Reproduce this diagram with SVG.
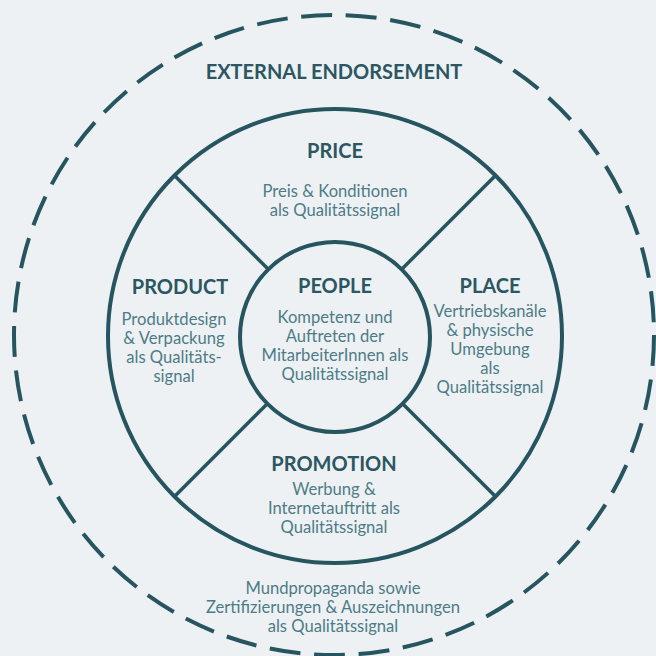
<svg xmlns="http://www.w3.org/2000/svg" width="656" height="656" viewBox="0 0 656 656">
  <style>
    .ring { fill: none; stroke: #265560; stroke-width: 4; }
    .dashed { fill: none; stroke: #265560; stroke-width: 4; stroke-dasharray: 31 13.68; }
    .spoke { stroke: #265560; stroke-width: 3.5; stroke-linecap: butt; }
    .head { font-family: Lato, "Liberation Sans", sans-serif; font-weight: 700; font-size: 20px; fill: #2b5662; text-anchor: middle; }
    .body { font-family: Lato, "Liberation Sans", sans-serif; font-size: 16.6px; fill: #4d7c86; text-anchor: middle; }
  </style>
  <rect width="656" height="656" fill="#edf1f4"/>

  <!-- external endorsement (outer dashed ring) -->
  <g id="external-endorsement">
    <circle class="dashed" cx="334" cy="335" r="320"/>
    <text class="head" x="334" y="79">EXTERNAL ENDORSEMENT</text>
    <text class="body" x="333" y="594">Mundpropaganda sowie</text>
    <text class="body" x="333" y="613">Zertifizierungen &amp; Auszeichnungen</text>
    <text class="body" x="333" y="632">als Qualitätssignal</text>
  </g>

  <!-- rings and dividing spokes -->
  <g id="connectors">
    <circle class="ring" cx="335" cy="336" r="227"/>
    <line class="spoke" x1="174.5" y1="175.5" x2="267.8" y2="268.8"/>
    <line class="spoke" x1="495.5" y1="175.5" x2="402.2" y2="268.8"/>
    <line class="spoke" x1="174.5" y1="496.5" x2="267.8" y2="403.2"/>
    <line class="spoke" x1="495.5" y1="496.5" x2="402.2" y2="403.2"/>
  </g>

  <g id="price">
    <text class="head" x="335" y="158">PRICE</text>
    <text class="body" x="335" y="197">Preis &amp; Konditionen</text>
    <text class="body" x="335" y="216">als Qualitätssignal</text>
  </g>

  <g id="product">
    <text class="head" x="180" y="294">PRODUCT</text>
    <text class="body" x="174" y="325">Produktdesign</text>
    <text class="body" x="174" y="344">&amp; Verpackung</text>
    <text class="body" x="174" y="363">als Qualitäts-</text>
    <text class="body" x="174" y="382">signal</text>
  </g>

  <g id="people">
    <circle class="ring" cx="335" cy="337" r="95" fill="#edf1f4"/>
    <text class="head" x="335" y="293">PEOPLE</text>
    <text class="body" x="335" y="323">Kompetenz und</text>
    <text class="body" x="335" y="342">Auftreten der</text>
    <text class="body" x="335" y="361">MitarbeiterInnen als</text>
    <text class="body" x="335" y="380">Qualitätssignal</text>
  </g>

  <g id="place">
    <text class="head" x="490" y="293">PLACE</text>
    <text class="body" x="490" y="317">Vertriebskanäle</text>
    <text class="body" x="490" y="336">&amp; physische</text>
    <text class="body" x="490" y="355">Umgebung</text>
    <text class="body" x="490" y="374">als</text>
    <text class="body" x="490" y="393">Qualitätssignal</text>
  </g>

  <g id="promotion">
    <text class="head" x="334" y="471">PROMOTION</text>
    <text class="body" x="334" y="495">Werbung &amp;</text>
    <text class="body" x="334" y="514">Internetauftritt als</text>
    <text class="body" x="334" y="533">Qualitätssignal</text>
  </g>
</svg>
